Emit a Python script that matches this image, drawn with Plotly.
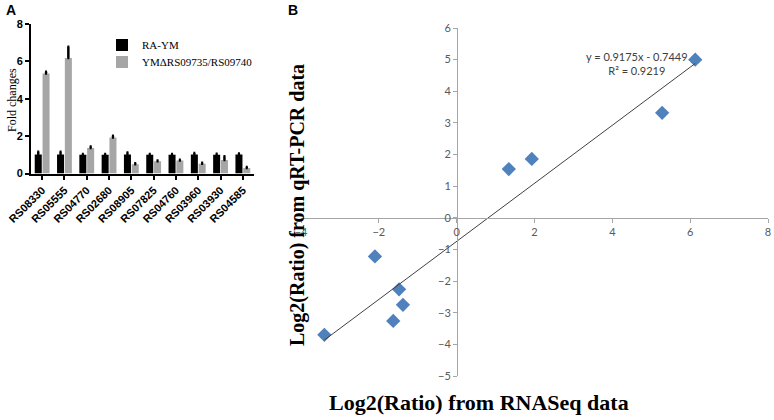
import plotly.graph_objects as go

W, H = 774, 420

# ---------------- Panel A data ----------------
genes = ["RS08330", "RS05555", "RS04770", "RS02680", "RS08905",
         "RS07825", "RS04760", "RS03960", "RS03930", "RS04585"]
ra_ym = [1.02, 1.02, 1.0, 1.0, 1.02, 1.0, 1.0, 1.02, 1.0, 1.02]
ra_ym_err = [0.15, 0.15, 0.04, 0.04, 0.1, 0.05, 0.04, 0.08, 0.06, 0.05]
mutant = [5.35, 6.18, 1.37, 1.93, 0.5, 0.65, 0.69, 0.52, 0.72, 0.3]
mutant_err = [0.1, 0.6, 0.07, 0.09, 0.05, 0.05, 0.04, 0.05, 0.2, 0.05]
fold_ticks = [0, 2, 4, 6, 8]

# ---------------- Panel B data ----------------
rnaseq = [6.13, 5.28, 1.34, 1.93, -2.10, -1.48, -1.38, -1.63, -3.40]
qpcr = [5.0, 3.32, 1.54, 1.86, -1.22, -2.26, -2.75, -3.26, -3.70]
slope, intercept, r2 = 0.9175, -0.7449, 0.9219
bx_ticks = [-4, -2, 0, 2, 4, 6, 8]
by_ticks = [-5, -4, -3, -2, -1, 0, 1, 2, 3, 4, 5, 6]


def px_x(p):
    return p / W


def px_y(p):
    return 1 - p / H


fig = go.Figure()

# bars
fig.add_trace(go.Bar(
    x=genes, y=ra_ym, name="RA-YM", marker=dict(color="#000000", line=dict(width=0)),
    error_y=dict(type="data", array=ra_ym_err, arrayminus=[0] * len(genes), symmetric=False,
                 color="#000000", thickness=2.5, width=1),
    xaxis="x", yaxis="y", legend="legend"))
fig.add_trace(go.Bar(
    x=genes, y=mutant, name="YMΔRS09735/RS09740", marker=dict(color="#A6A6A6", line=dict(width=0)),
    error_y=dict(type="data", array=mutant_err, arrayminus=[0] * len(genes), symmetric=False,
                 color="#000000", thickness=2.5, width=1),
    xaxis="x", yaxis="y", legend="legend2"))

# scatter
fig.add_trace(go.Scatter(
    x=rnaseq, y=qpcr, mode="markers", showlegend=False,
    marker=dict(symbol="diamond", size=11, color="#4F81BD"),
    xaxis="x2", yaxis="y2"))

# trendline from min to max x
xmin, xmax = min(rnaseq), max(rnaseq)
fig.add_trace(go.Scatter(
    x=[xmin, xmax], y=[slope * xmin + intercept, slope * xmax + intercept],
    mode="lines", showlegend=False, line=dict(color="#404040", width=1),
    xaxis="x2", yaxis="y2"))

axA_font = dict(family="Liberation Sans, Arial", size=11, color="#000000", weight="bold")
tick_font_B = dict(family="Lato, Open Sans, sans-serif", size=11, color="#595959")
leg_font = dict(family="Liberation Serif, Times New Roman", size=11, color="#000000")

fig.update_layout(
    width=W, height=H,
    margin=dict(l=0, r=0, t=0, b=0, autoexpand=False),
    paper_bgcolor="white", plot_bgcolor="white",
    barmode="group", bargap=0.3, bargroupgap=0.1,
    showlegend=True,
    legend=dict(x=px_x(102), y=px_y(45), xanchor="left", yanchor="middle",
                font=leg_font, bgcolor="rgba(0,0,0,0)"),
    legend2=dict(x=px_x(102), y=px_y(62), xanchor="left", yanchor="middle",
                 font=leg_font, bgcolor="rgba(0,0,0,0)"),
    xaxis=dict(domain=[px_x(31), px_x(254)], range=[-0.5, 9.5], anchor="y", automargin=False,
               showline=True, linecolor="#000000", linewidth=2,
               ticks="outside", ticklen=4, tickwidth=1.5, tickcolor="#000000",
               tickangle=-45, tickfont=axA_font,
               showgrid=False, zeroline=False),
    yaxis=dict(domain=[px_y(173.5), px_y(24)], range=[0, 8], anchor="x", automargin=False,
               showline=True, linecolor="#000000", linewidth=2,
               ticks="outside", ticklen=4, tickwidth=1.5, tickcolor="#000000",
               tickvals=fold_ticks, tickfont=axA_font,
               showgrid=False, zeroline=False),
    xaxis2=dict(domain=[px_x(301), px_x(768)], range=[-4, 8], anchor="free", position=px_y(218),
                automargin=False,
                showline=True, linecolor="#A6A6A6", linewidth=1,
                ticks="outside", ticklen=4, tickcolor="#A6A6A6",
                tickvals=bx_ticks, tickfont=tick_font_B,
                showgrid=False, zeroline=False),
    yaxis2=dict(domain=[px_y(376), px_y(28)], range=[-5, 6], anchor="free", position=px_x(457),
                automargin=False,
                showline=True, linecolor="#A6A6A6", linewidth=1,
                ticks="outside", ticklen=4, tickcolor="#A6A6A6",
                tickvals=by_ticks, tickfont=tick_font_B,
                showgrid=False, zeroline=False),
)

ann = [
    dict(text="<b>A</b>", x=px_x(4), y=px_y(10), xanchor="left", yanchor="middle",
         font=dict(family="Liberation Sans, Arial", size=14, color="#000000")),
    dict(text="<b>B</b>", x=px_x(286), y=px_y(10), xanchor="left", yanchor="middle",
         font=dict(family="Liberation Sans, Arial", size=14, color="#000000")),
    dict(text="Fold changes", x=px_x(12), y=px_y(100), textangle=-90,
         xanchor="center", yanchor="middle",
         font=dict(family="Liberation Serif, Times New Roman", size=12, color="#000000")),
    dict(text="<b>Log2(Ratio) from qRT-PCR data</b>", x=px_x(297), y=px_y(205), textangle=-90,
         xanchor="center", yanchor="middle",
         font=dict(family="Liberation Serif, Times New Roman", size=20, color="#000000")),
    dict(text="<b>Log2(Ratio) from RNASeq data</b>", x=px_x(479), y=px_y(402),
         xanchor="center", yanchor="middle",
         font=dict(family="Liberation Serif, Times New Roman", size=22, color="#000000")),
    dict(text=f"y = {slope}x - {abs(intercept)}<br>R² = {r2}", x=px_x(637), y=px_y(63),
         xanchor="center", yanchor="middle", align="center",
         font=dict(family="Lato, Open Sans, sans-serif", size=11, color="#404040")),
]
for a in ann:
    a.update(xref="paper", yref="paper", showarrow=False)
fig.update_layout(annotations=ann)

fig.write_html("out.html", config={"displayModeBar": False},
               post_script="document.body.style.margin='0';document.body.style.padding='0';")
